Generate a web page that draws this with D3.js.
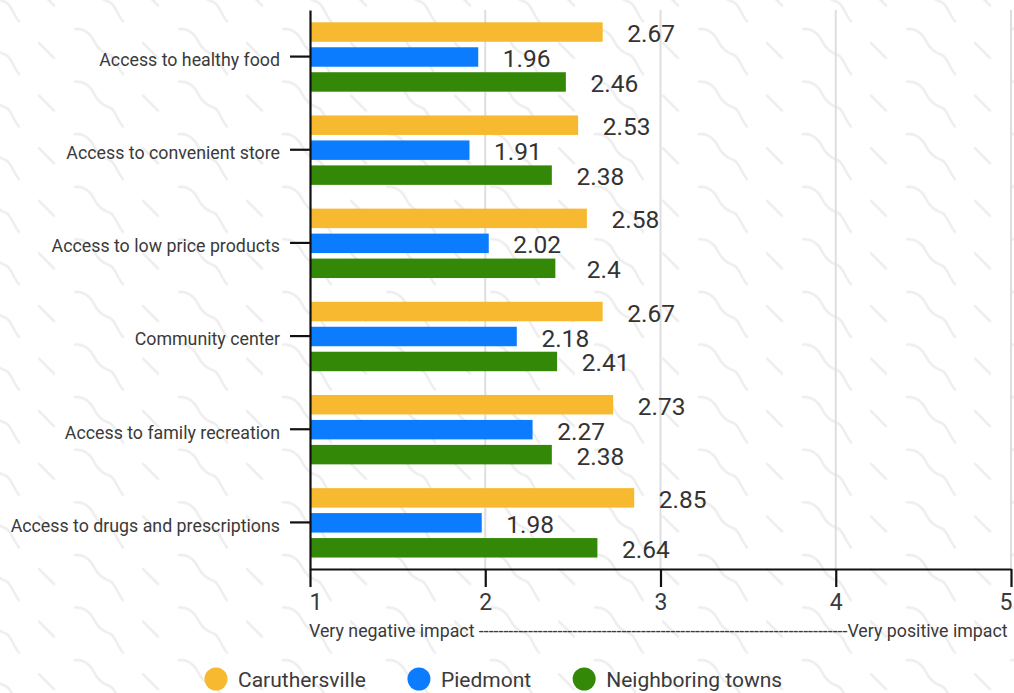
<!DOCTYPE html>
<html>
<head>
<meta charset="utf-8">
<script src="https://cdn.jsdelivr.net/npm/d3@7"></script>
<style>
  html, body { margin: 0; padding: 0; background: #fff; }
  svg { display: block; font-family: Roboto, "Noto Sans", sans-serif; }
</style>
</head>
<body>
<svg id="chart" width="1014" height="693"></svg>
<script>
// Survey categories (top to bottom)
const categories = [
  "Access to healthy food",
  "Access to convenient store",
  "Access to low price products",
  "Community center",
  "Access to family recreation",
  "Access to drugs and prescriptions"
];
// Series names and their average ratings per category
const seriesNames = ["Caruthersville", "Piedmont", "Neighboring towns"];
const caruthersville = [2.67, 2.53, 2.58, 2.67, 2.73, 2.85];
const piedmont = [1.96, 1.91, 2.02, 2.18, 2.27, 1.98];
const neighboringTowns = [2.46, 2.38, 2.4, 2.41, 2.38, 2.64];
const xTicks = [1, 2, 3, 4, 5];
const scaleLabels = ["Very negative impact", "Very positive impact"];
const seriesColors = ["#f6b92f", "#0b7cfe", "#348808"];

const seriesValues = [caruthersville, piedmont, neighboringTowns];
const rows = categories.map((c, i) => ({
  category: c,
  values: seriesNames.map((s, j) => ({ series: s, value: seriesValues[j][i], color: seriesColors[j] }))
}));

const svg = d3.select("#chart");
const W = 1014, H = 693;
const plotLeft = 310, plotRight = 1011, plotTop = 10, plotBottom = 569;

// Soft wavy background texture
const defs = svg.append("defs");
defs.append("filter").attr("id", "soft")
  .append("feGaussianBlur").attr("stdDeviation", 0.5);
const pat = defs.append("pattern")
  .attr("id", "waves")
  .attr("patternUnits", "userSpaceOnUse")
  .attr("x", 73).attr("y", 27)
  .attr("width", 104).attr("height", 52.6);
const patG = pat.append("g").attr("filter", "url(#soft)");
patG.append("path")
  .attr("d", "M2,2 C10,1 17,6 21,14 C25,22 30,26 37,28 C42,30 44,40 50,47")
  .attr("fill", "none").attr("stroke", "#eeeeee").attr("stroke-width", 2.6)
  .attr("stroke-linecap", "round");
patG.append("path")
  .attr("d", "M70,16 L85,31")
  .attr("fill", "none").attr("stroke", "#eeeeee").attr("stroke-width", 2.6)
  .attr("stroke-linecap", "round");

svg.append("rect").attr("width", W).attr("height", H).attr("fill", "#fff");
svg.append("rect").attr("width", W).attr("height", H).attr("fill", "url(#waves)");

const x = d3.scaleLinear().domain([1, 5]).range([plotLeft, plotRight]);
const y0 = d3.scaleBand().domain(categories).range([plotTop, plotBottom]);
const y1 = d3.scaleBand().domain(seriesNames).range([12.3, 81.7]).paddingInner(0.22);

// Vertical gridlines
svg.append("g").selectAll("line")
  .data(xTicks.slice(1))
  .join("line")
  .attr("x1", d => x(d)).attr("x2", d => x(d))
  .attr("y1", plotTop).attr("y2", plotBottom)
  .attr("stroke", "#dedede").attr("stroke-width", 2);

// Bars
const groups = svg.append("g").selectAll("g")
  .data(rows)
  .join("g")
  .attr("transform", d => `translate(0,${y0(d.category)})`);

groups.selectAll("rect")
  .data(d => d.values)
  .join("rect")
  .attr("x", x(1))
  .attr("y", d => y1(d.series))
  .attr("width", d => x(d.value) - x(1))
  .attr("height", y1.bandwidth())
  .attr("fill", d => d.color);

// Value labels
groups.selectAll("text")
  .data(d => d.values)
  .join("text")
  .attr("x", d => x(d.value) + 48.5)
  .attr("y", d => y1(d.series) + y1.bandwidth() / 2 + 10)
  .attr("text-anchor", "middle")
  .attr("font-size", 24.5)
  .attr("fill", "#333")
  .text(d => d.value);

// Left (category) axis
const yAxis = svg.append("g")
  .attr("transform", `translate(${plotLeft},0)`)
  .call(d3.axisLeft(y0).tickSize(20).tickSizeOuter(0).tickPadding(10));
yAxis.select(".domain").attr("stroke", "#111").attr("stroke-width", 2.2);
yAxis.selectAll(".tick line").attr("stroke", "#111").attr("stroke-width", 2.2);
yAxis.selectAll(".tick text")
  .attr("font-size", 17.8)
  .attr("font-family", "Roboto, sans-serif")
  .attr("fill", "#3a3a3a")
  .attr("dy", "0.52em");

// Bottom (rating) axis
const xAxis = svg.append("g")
  .attr("transform", `translate(0,${plotBottom})`)
  .call(d3.axisBottom(x).tickValues(xTicks).tickFormat(d3.format("d")).tickSize(18).tickSizeOuter(0));
xAxis.select(".domain").attr("stroke", "#111").attr("stroke-width", 2.2);
xAxis.selectAll(".tick line").attr("stroke", "#111").attr("stroke-width", 2.2);
xAxis.selectAll(".tick text")
  .attr("font-size", 23)
  .attr("font-family", "Roboto, sans-serif")
  .attr("fill", "#3a3a3a")
  .attr("y", 41).attr("dy", 0)
  .attr("text-anchor", (d, i) => i === 0 ? "start" : i === xTicks.length - 1 ? "end" : "middle")
  .attr("dx", (d, i) => i === 0 ? -1 : i === xTicks.length - 1 ? 1 : 0);

// Scale caption with dashed leader between the two ends
const caption = svg.append("text")
  .attr("x", plotLeft - 1)
  .attr("y", 637)
  .attr("font-size", 17.8)
  .attr("fill", "#3a3a3a");
const target = plotRight - plotLeft;
let best = 0, bestDiff = Infinity;
for (let n = 0; n < 400; n++) {
  caption.text(scaleLabels[0] + " " + "-".repeat(n) + scaleLabels[1]);
  const len = caption.node().getComputedTextLength();
  const diff = Math.abs(len - target);
  if (diff < bestDiff) { bestDiff = diff; best = n; }
  if (len > target) break;
}
caption.text(scaleLabels[0] + " " + "-".repeat(best) + scaleLabels[1]);

// Legend
const legend = svg.append("g");
let lx = 204;
seriesNames.forEach((s, i) => {
  legend.append("circle")
    .attr("cx", lx + 12).attr("cy", 679).attr("r", 11.5)
    .attr("fill", seriesColors[i]);
  const t = legend.append("text")
    .attr("x", lx + 34).attr("y", 687)
    .attr("font-size", 21)
    .attr("fill", "#3a3a3a")
    .text(s);
  lx += 34 + t.node().getComputedTextLength() + 41;
});
</script>
</body>
</html>
